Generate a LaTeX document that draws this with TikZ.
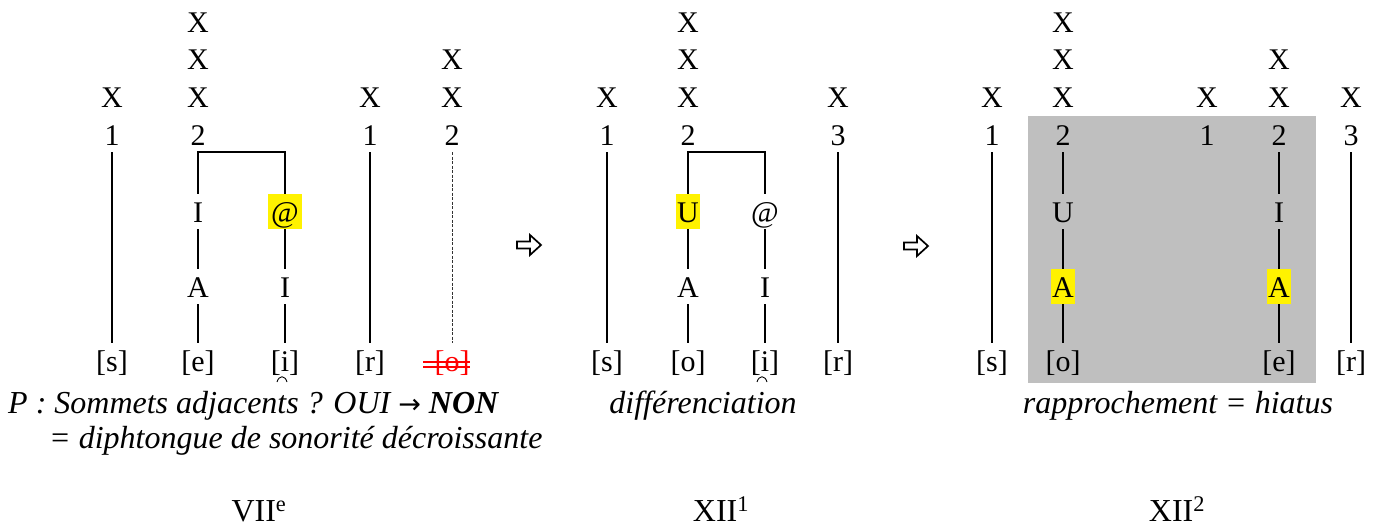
\documentclass[tikz,border=0pt]{standalone}
\usepackage{fontspec}
\setmainfont{Liberation Serif}
\newfontfamily\symfont{DejaVu Sans}
\begin{document}
\begin{tikzpicture}[x=1pt,y=-1pt,
  lbl/.style={inner sep=0pt, text height=28pt, text depth=7pt, anchor=base, font=\fontsize{30}{36}\selectfont},
  hl/.style={lbl, fill=yellow, inner xsep=1.5pt},
  ln/.style={line width=1.8pt},
  dl/.style={line width=0.6pt, dash pattern=on 3pt off 1.5pt, black!80},
  captxt/.style={inner sep=0pt, font=\fontsize{32}{38}\selectfont\itshape},
  era/.style={inner sep=0pt, anchor=base, font=\fontsize{32}{38}\selectfont},
  fat/.style={line width=1.7pt, fill=white, line join=miter}]
\useasboundingbox (0,0) rectangle (1376,527);
% gray background of panel 3
\fill[black!25] (1028,116) rectangle (1316,383);
% ---------- Panel 1 ----------
\node[lbl] (p1sx) at (112,107) {X};
\node[lbl] (p1s1) at (112,145) {1};
\node[lbl] (p1ss) at (112,371) {[s]};
\node[lbl] (p1ex1) at (198,33) {X};
\node[lbl] (p1ex2) at (198,70) {X};
\node[lbl] (p1ex3) at (198,107) {X};
\node[lbl] (p1e2) at (198,145) {2};
\node[lbl] (p1eI) at (198,222) {I};
\node[lbl] (p1eA) at (198,297) {A};
\node[lbl] (p1ee) at (198,371) {[e]};
\node[hl, inner xsep=3pt] (p1iat) at (285,222) {@};
\node[lbl] (p1iI) at (285,297) {I};
\node[lbl] (p1ii) at (285,371) {[i]};
\node[lbl] (p1rx) at (370,107) {X};
\node[lbl] (p1r1) at (370,145) {1};
\node[lbl] (p1rr) at (370,371) {[r]};
\node[lbl] (p1ox2) at (452,70) {X};
\node[lbl] (p1ox3) at (452,107) {X};
\node[lbl] (p1o2) at (452,145) {2};
\node[lbl, text=red] (p1oo) at (452,371) {[o]};
\draw[ln] (p1s1.south) -- (p1ss.north);
\draw[ln] (p1eI.north) -- (p1eI.north |- p1e2.south) -| (p1iat.north);
\draw[ln] (p1eI.south) -- (p1eA.north);
\draw[ln] (p1eA.south) -- (p1ee.north);
\draw[ln] (p1iat.south) -- (p1iI.north);
\draw[ln] (p1iI.south) -- (p1ii.north);
\draw[ln] (p1r1.south) -- (p1rr.north);
\draw[dl] (p1o2.south) -- (p1oo.north);
\draw[red, line width=1.3pt] ([xshift=-11pt,yshift=9pt]p1oo.base west) -- ([yshift=9pt]p1oo.base east);
\draw[red, line width=1.3pt] ([xshift=-11pt,yshift=4pt]p1oo.base west) -- ([yshift=4pt]p1oo.base east);
\draw[line width=0.9pt] (277,382) .. controls (279,375) and (285,375) .. (287,382);
% arrow 1
\draw[fat] (517,241.5) -- (530,241.5) -- (530,235) -- (541,245) -- (530,255) -- (530,248.5) -- (517,248.5) -- cycle;
% ---------- Panel 2 ----------
\node[lbl] (p2sx) at (607,107) {X};
\node[lbl] (p2s1) at (607,145) {1};
\node[lbl] (p2ss) at (607,371) {[s]};
\node[lbl] (p2ox1) at (688,33) {X};
\node[lbl] (p2ox2) at (688,70) {X};
\node[lbl] (p2ox3) at (688,107) {X};
\node[lbl] (p2o2) at (688,145) {2};
\node[hl] (p2oU) at (688,222) {U};
\node[lbl] (p2oA) at (688,297) {A};
\node[lbl] (p2oo) at (688,371) {[o]};
\node[lbl] (p2iat) at (765,222) {@};
\node[lbl] (p2iI) at (765,297) {I};
\node[lbl] (p2ii) at (765,371) {[i]};
\node[lbl] (p2rx) at (838,107) {X};
\node[lbl] (p2r3) at (838,145) {3};
\node[lbl] (p2rr) at (838,371) {[r]};
\draw[ln] (p2s1.south) -- (p2ss.north);
\draw[ln] (p2oU.north) -- (p2oU.north |- p2o2.south) -| (p2iat.north);
\draw[ln] (p2oU.south) -- (p2oA.north);
\draw[ln] (p2oA.south) -- (p2oo.north);
\draw[ln] (p2iat.south) -- (p2iI.north);
\draw[ln] (p2iI.south) -- (p2ii.north);
\draw[ln] (p2r3.south) -- (p2rr.north);
\draw[line width=0.9pt] (757,382) .. controls (759,375) and (765,375) .. (767,382);
% arrow 2
\draw[fat] (904,242.5) -- (917,242.5) -- (917,236) -- (928,246) -- (917,256) -- (917,249.5) -- (904,249.5) -- cycle;
% ---------- Panel 3 ----------
\node[lbl] (p3sx) at (992,107) {X};
\node[lbl] (p3s1) at (992,145) {1};
\node[lbl] (p3ss) at (992,371) {[s]};
\node[lbl] (p3ox1) at (1063,33) {X};
\node[lbl] (p3ox2) at (1063,70) {X};
\node[lbl] (p3ox3) at (1063,107) {X};
\node[lbl] (p3o2) at (1063,145) {2};
\node[lbl] (p3oU) at (1063,222) {U};
\node[hl] (p3oA) at (1063,297) {A};
\node[lbl] (p3oo) at (1063,371) {[o]};
\node[lbl] (p3cx) at (1207,107) {X};
\node[lbl] (p3c1) at (1207,145) {1};
\node[lbl] (p3ex2) at (1279,70) {X};
\node[lbl] (p3ex3) at (1279,107) {X};
\node[lbl] (p3e2) at (1279,145) {2};
\node[lbl] (p3eI) at (1279,222) {I};
\node[hl] (p3eA) at (1279,297) {A};
\node[lbl] (p3ee) at (1279,371) {[e]};
\node[lbl] (p3rx) at (1351,107) {X};
\node[lbl] (p3r3) at (1351,145) {3};
\node[lbl] (p3rr) at (1351,371) {[r]};
\draw[ln] (p3s1.south) -- (p3ss.north);
\draw[ln] (p3o2.south) -- (p3oU.north);
\draw[ln] (p3oU.south) -- (p3oA.north);
\draw[ln] (p3oA.south) -- (p3oo.north);
\draw[ln] (p3e2.south) -- (p3eI.north);
\draw[ln] (p3eI.south) -- (p3eA.north);
\draw[ln] (p3eA.south) -- (p3ee.north);
\draw[ln] (p3r3.south) -- (p3rr.north);
% ---------- Captions ----------
\node[captxt, anchor=base west] (c1a) at (8,413) {P : Sommets adjacents ? OUI {\symfont\fontsize{27}{30}\selectfont\upshape →} \textbf{NON}};
\node[captxt, anchor=base west] (c1b) at (49,448) {= diphtongue de sonorité décroissante};
\node[captxt, anchor=base] (c2) at (703,413) {différenciation};
\node[captxt, anchor=base] (c3) at (1178,413) {rapprochement = hiatus};
\node[era] (e1) at (259,521) {VII\textsuperscript{e}};
\node[era] (e2) at (721,521) {XII\textsuperscript{1}};
\node[era] (e3) at (1177,521) {XII\textsuperscript{2}};
\end{tikzpicture}
\end{document}
